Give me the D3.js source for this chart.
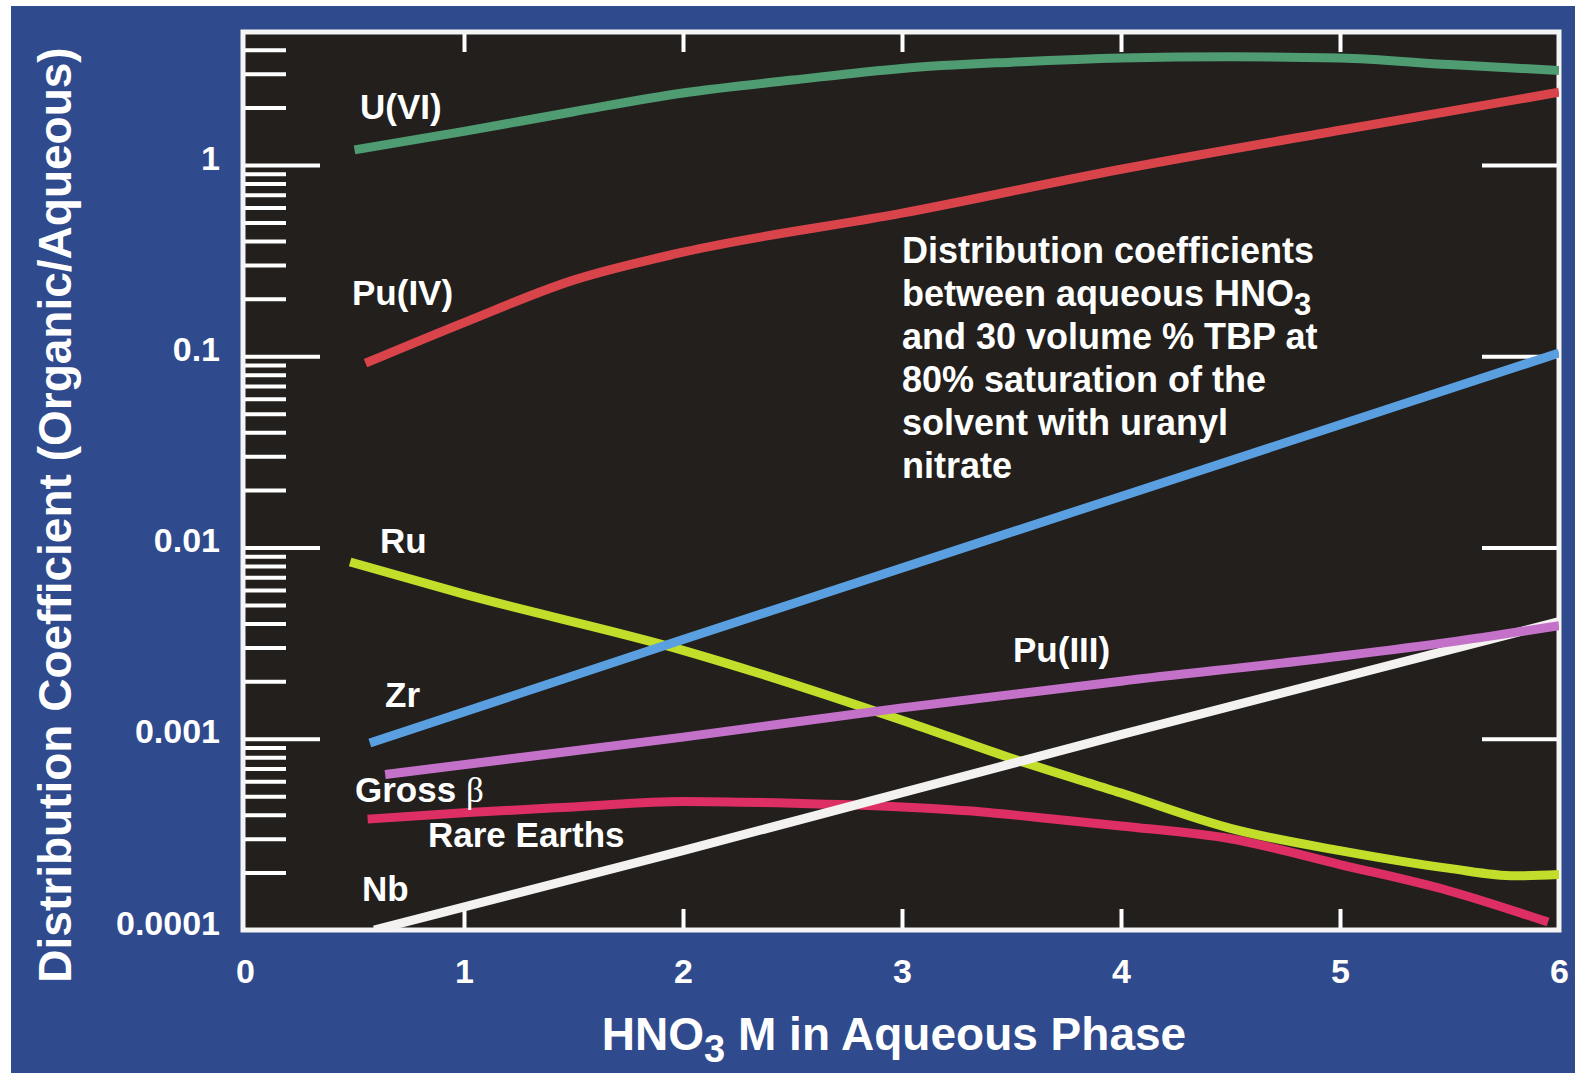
<!DOCTYPE html>
<html><head><meta charset="utf-8">
<script src="https://cdn.jsdelivr.net/npm/d3@7"></script>
<style>
body{margin:0;background:#fff}
svg{display:block}
text{font-family:"Liberation Sans",Arial,Helvetica,sans-serif;font-weight:bold;fill:#fff}
</style>
</head><body>
<svg id="c" width="1575" height="1073"></svg>
<script>
// ---- data ----
const xTickValues = [0, 1, 2, 3, 4, 5, 6];
const xTickLabels = ["0", "1", "2", "3", "4", "5", "6"];
const yTickValues = [1, 0.1, 0.01, 0.001, 0.0001];
const yTickLabels = ["1", "0.1", "0.01", "0.001", "0.0001"];

const seriesNames = ["Rare Earths", "Ru", "Nb", "Pu(III)", "Zr", "Pu(IV)", "U(VI)"];
const rareEarths = [[0.56,0.00038],[1,0.00041],[1.5,0.00044],[2,0.00047],[2.5,0.00046],[3,0.00044],[3.3,0.00042],[3.6,0.00039],[4,0.00035],[4.5,0.0003],[5,0.00022],[5.5,0.00016],[5.95,0.00011]];
const ru = [[0.48,0.0084],[1,0.0057],[2,0.0029],[3,0.00125],[3.5,0.00079],[4,0.00052],[4.5,0.00034],[5,0.00026],[5.5,0.00021],[5.8,0.000192],[6,0.000195]];
const nb = [[0.59,0.0001],[2,0.00026],[4,0.00105],[6,0.0041]];
const pu3 = [[0.64,0.00065],[2,0.00102],[3,0.00145],[4,0.002],[5,0.0027],[5.5,0.0032],[6,0.0039]];
const zr = [[0.57,0.00095],[2,0.0033],[4,0.0185],[6,0.104]];
const pu4 = [[0.55,0.092],[1,0.15],[1.5,0.25],[2,0.35],[3,0.56],[4,0.95],[5,1.52],[6,2.4]];
const u6 = [[0.5,1.2],[1,1.5],[1.5,1.9],[2,2.38],[2.5,2.78],[3,3.2],[3.5,3.45],[4,3.63],[4.5,3.68],[5,3.63],[5.5,3.35],[6,3.12]];
const seriesColors = ["#dd2f63", "#c3dd2b", "#f4f2f0", "#c472c9", "#5a9fe0", "#d9444b", "#4f9b72"];

// ---- layout ----
const svg = d3.select("#c");
const L = 245, R = 1559, T = 32, B = 930;
const x = d3.scaleLinear().domain([0, 6]).range([L, R]);
const y = d3.scaleLog().domain([0.0001, 4.96]).range([B, T]);

svg.append("rect").attr("width", 1575).attr("height", 1073).attr("fill", "#fff");
svg.append("rect").attr("x", 11).attr("y", 6).attr("width", 1564).attr("height", 1067).attr("fill", "#2f4a8d");
svg.append("rect").attr("x", 243).attr("y", T).attr("width", R - 243).attr("height", B - T)
  .attr("fill", "#221f1d");

svg.append("defs").append("clipPath").attr("id", "clip")
  .append("rect").attr("x", 243).attr("y", T).attr("width", R - 243).attr("height", B - T);

// ticks
const minor = y.ticks().filter(v => yTickValues.indexOf(v) < 0 && v < 4.96);
function styleTicks(g, w) {
  g.select(".domain").remove();
  g.selectAll(".tick line").attr("stroke", "#fff").attr("stroke-width", w);
  g.selectAll(".tick text").remove();
}
svg.append("g").attr("transform", `translate(243,0)`)
  .call(d3.axisRight(y).tickValues(minor).tickSize(43).tickFormat(""))
  .call(g => styleTicks(g, 4));
svg.append("g").attr("transform", `translate(243,0)`)
  .call(d3.axisRight(y).tickValues(yTickValues.slice(0, 4)).tickSize(77).tickFormat(""))
  .call(g => styleTicks(g, 4));
svg.append("g").attr("transform", `translate(${R},0)`)
  .call(d3.axisLeft(y).tickValues(yTickValues.slice(0, 4)).tickSize(77).tickFormat(""))
  .call(g => styleTicks(g, 4));
svg.append("g").attr("transform", `translate(0,${T})`)
  .call(d3.axisBottom(x).tickValues(xTickValues.slice(1, 6)).tickSize(20).tickFormat(""))
  .call(g => styleTicks(g, 4));
svg.append("g").attr("transform", `translate(0,${B})`)
  .call(d3.axisTop(x).tickValues(xTickValues.slice(1, 6)).tickSize(21).tickFormat(""))
  .call(g => styleTicks(g, 4));

// frame
svg.append("rect").attr("x", 243).attr("y", T).attr("width", R - 243).attr("height", B - T)
  .attr("fill", "none").attr("stroke", "#f4f4f4").attr("stroke-width", 5);

// tick labels
const yl = svg.append("g").attr("transform", "translate(243,0)")
  .call(d3.axisLeft(y).tickValues(yTickValues).tickSize(0).tickPadding(23)
    .tickFormat((d, i) => yTickLabels[i]));
yl.select(".domain").remove();
yl.selectAll("text").attr("dy", "0.12em").style("font-size", "34px").attr("font-family", null);

const xl = svg.append("g").attr("transform", `translate(0,${B})`)
  .call(d3.axisBottom(x).tickValues(xTickValues).tickSize(0).tickPadding(29)
    .tickFormat((d, i) => xTickLabels[i]));
xl.select(".domain").remove();
xl.selectAll("text").style("font-size", "34px").attr("font-family", null);

// lines
const line = d3.line().x(d => x(d[0])).y(d => y(d[1])).curve(d3.curveMonotoneX);
const allSeries = [rareEarths, ru, nb, pu3, zr, pu4, u6];
svg.append("g").attr("clip-path", "url(#clip)")
  .selectAll("path").data(allSeries).join("path")
  .attr("d", line).attr("fill", "none")
  .attr("stroke", (d, i) => seriesColors[i]).attr("stroke-width", 9)
  .attr("stroke-linecap", "butt");

// series labels
const lab = [
  ["U(VI)", 360, 119], ["Pu(IV)", 352, 305], ["Ru", 380, 553], ["Zr", 385, 707],
  ["Rare Earths", 428, 847], ["Nb", 362, 901], ["Pu(III)", 1013, 662]
];
svg.append("g").selectAll("text").data(lab).join("text")
  .attr("x", d => d[1]).attr("y", d => d[2]).style("font-size", "35px").text(d => d[0]);
const gb = svg.append("text").attr("x", 355).attr("y", 802).style("font-size", "35px");
gb.append("tspan").text("Gross ");
gb.append("tspan").text("β").style("font-family", "'Liberation Serif','DejaVu Serif',serif").style("font-weight", "normal");

// annotation
const note = svg.append("text").attr("x", 902).attr("y", 263).style("font-size", "36px");
note.append("tspan").attr("x", 902).attr("dy", 0).text("Distribution coefficients");
note.append("tspan").attr("x", 902).attr("dy", 43).text("between aqueous HNO");
note.append("tspan").attr("dy", 9).style("font-size", "31px").text("3");
note.append("tspan").attr("x", 902).attr("dy", 34).text("and 30 volume % TBP at");
note.append("tspan").attr("x", 902).attr("dy", 43).text("80% saturation of the");
note.append("tspan").attr("x", 902).attr("dy", 43).text("solvent with uranyl");
note.append("tspan").attr("x", 902).attr("dy", 43).text("nitrate");

// axis titles
const xt = svg.append("text").attr("x", 894).attr("y", 1050).attr("text-anchor", "middle").style("font-size", "46px");
xt.append("tspan").text("HNO");
xt.append("tspan").attr("dy", 12).style("font-size", "38px").text("3");
xt.append("tspan").attr("dy", -12).text(" M in Aqueous Phase");

svg.append("text").attr("transform", "translate(71,515) rotate(-90)").attr("text-anchor", "middle")
  .style("font-size", "46px").text("Distribution Coefficient (Organic/Aqueous)");
</script>
</body></html>
